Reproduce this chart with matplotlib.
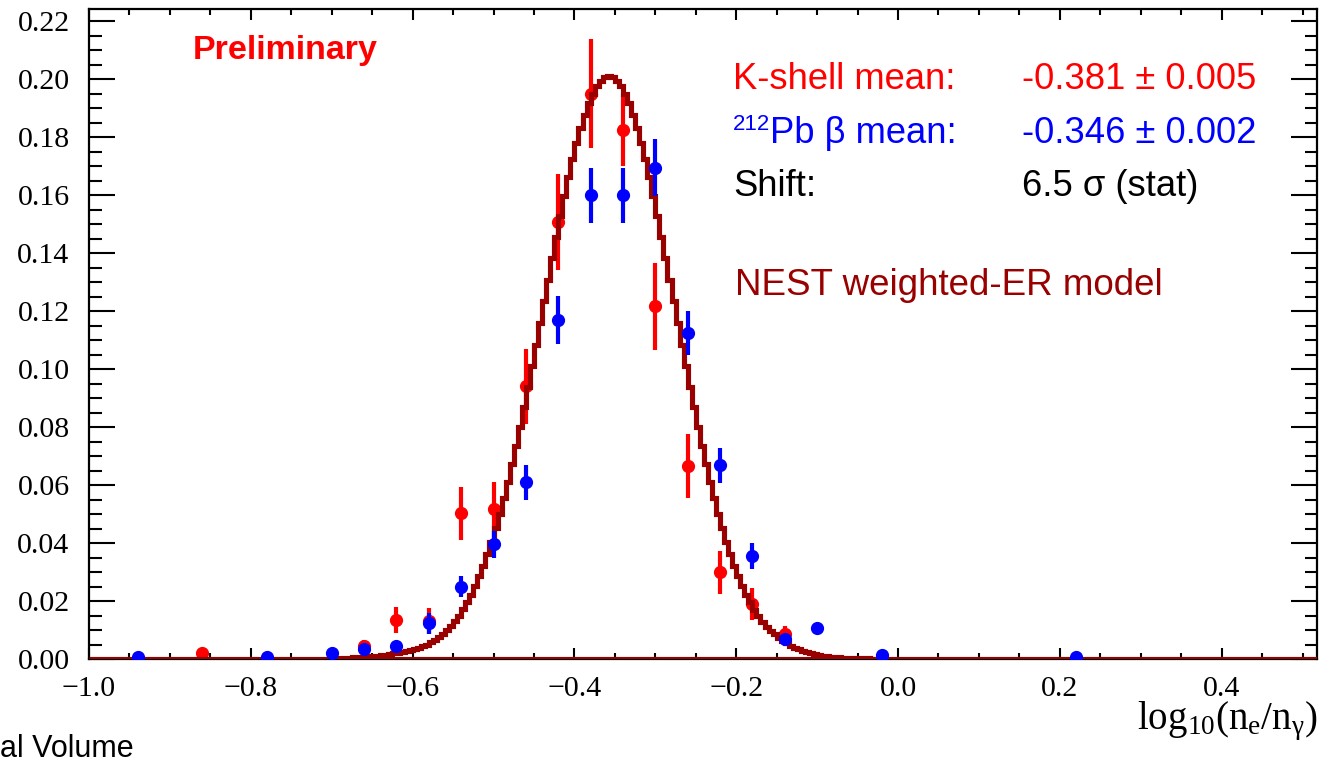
import matplotlib
matplotlib.use("Agg")
import matplotlib.pyplot as plt
import numpy as np

# data points (bin centres, 0.04 wide)
kshell_x = [-0.86, -0.66, -0.62, -0.58, -0.54, -0.50, -0.46, -0.42, -0.38, -0.34,
            -0.30, -0.26, -0.22, -0.18, -0.14]
kshell_y = [0.0020, 0.0045, 0.0134, 0.0130, 0.0503, 0.0516, 0.0940, 0.1508, 0.1950, 0.1824,
            0.1216, 0.0665, 0.0299, 0.0190, 0.0085]
kshell_err = [0.0010, 0.0020, 0.0046, 0.0045, 0.0092, 0.0095, 0.0129, 0.0166, 0.0188, 0.0125,
              0.0150, 0.0110, 0.0075, 0.0055, 0.0030]

pb_x = [-0.94, -0.78, -0.70, -0.66, -0.62, -0.58, -0.54, -0.50, -0.46, -0.42,
        -0.38, -0.34, -0.30, -0.26, -0.22, -0.18, -0.14, -0.10, -0.02, 0.22]
pb_y = [0.0008, 0.0008, 0.0022, 0.0034, 0.0045, 0.0123, 0.0250, 0.0395, 0.0610, 0.1170,
        0.1600, 0.1600, 0.1695, 0.1125, 0.0668, 0.0355, 0.0069, 0.0107, 0.0013, 0.0008]
pb_err = [0.0004, 0.0004, 0.0008, 0.0010, 0.0012, 0.0037, 0.0035, 0.0046, 0.0060, 0.0083,
          0.0095, 0.0095, 0.0098, 0.0077, 0.0060, 0.0046, 0.0015, 0.0012, 0.0005, 0.0004]

# NEST model histogram, 0.005 wide bins from -0.70 to -0.02
model_lo, model_hi = -0.70, -0.02
model_vals = [
    0.0003, 0.0004, 0.0004, 0.0005, 0.0005, 0.0006, 0.0007, 0.0008, 0.0009, 0.0010,
    0.0011, 0.0012, 0.0014, 0.0015, 0.0017, 0.0019, 0.0021, 0.0024, 0.0027, 0.0030,
    0.0034, 0.0039, 0.0044, 0.0050, 0.0057, 0.0066, 0.0076, 0.0087, 0.0100, 0.0114,
    0.0130, 0.0150, 0.0171, 0.0196, 0.0222, 0.0252, 0.0286, 0.0322, 0.0362, 0.0405,
    0.0451, 0.0501, 0.0554, 0.0611, 0.0671, 0.0734, 0.0799, 0.0868, 0.0938, 0.1010,
    0.1084, 0.1159, 0.1234, 0.1309, 0.1384, 0.1457, 0.1528, 0.1596, 0.1661, 0.1723,
    0.1779, 0.1831, 0.1877, 0.1917, 0.1950, 0.1976, 0.1995, 0.2006,
    0.2010, 0.2006, 0.1995, 0.1976, 0.1950, 0.1917, 0.1877, 0.1831, 0.1779, 0.1723,
    0.1661, 0.1596, 0.1528, 0.1457, 0.1384, 0.1309, 0.1234, 0.1159, 0.1084, 0.1010,
    0.0938, 0.0868, 0.0799, 0.0734, 0.0671, 0.0611, 0.0554, 0.0501, 0.0451, 0.0405,
    0.0362, 0.0322, 0.0286, 0.0252, 0.0222, 0.0195, 0.0170, 0.0148, 0.0128, 0.0111,
    0.0098, 0.0085, 0.0073, 0.0063, 0.0054, 0.0046, 0.0039, 0.0033, 0.0028, 0.0024,
    0.0020, 0.0017, 0.0014, 0.0012, 0.0010, 0.0008, 0.0007, 0.0006, 0.0005, 0.0004,
    0.0003, 0.0003, 0.0002, 0.0002, 0.0002, 0.0001, 0.0001, 0.0001,
]
model_edges = np.linspace(model_lo, model_hi, len(model_vals) + 1)

xticks = [-1.0, -0.8, -0.6, -0.4, -0.2, 0.0, 0.2, 0.4]
yticks = [0.00, 0.02, 0.04, 0.06, 0.08, 0.10, 0.12, 0.14, 0.16, 0.18, 0.20, 0.22]

RED = '#ff0000'
BLUE = '#0000ff'
MODEL = '#990000'
W, H = 1321, 762

fig = plt.figure(figsize=(13.21, 7.62), dpi=100)
ax = fig.add_axes([89 / W, 1 - 659 / H, (1316.7 - 89) / W, (659 - 9.3) / H])

ax.errorbar(kshell_x, kshell_y, yerr=kshell_err, fmt='o', color=RED, ms=8.5,
            elinewidth=3, capsize=0, zorder=2)
ax.stairs(model_vals, model_edges, color=MODEL, lw=3.7, zorder=3)
ax.plot([-1.0, 0.5175], [0, 0], color=MODEL, lw=3.7, zorder=3, solid_capstyle='butt')
ax.errorbar(pb_x, pb_y, yerr=pb_err, fmt='o', color=BLUE, ms=8.5,
            elinewidth=3, capsize=0, zorder=4)

ax.set_xlim(-1.0, 0.5175)
ax.set_ylim(0, 0.2241)
ax.set_xticks(xticks)
ax.set_yticks(yticks)
ax.set_xticks(np.arange(-1.0, 0.52, 0.05), minor=True)
ax.set_yticks(np.arange(0, 0.224, 0.005), minor=True)
ax.set_xticklabels([('%.1f' % abs(v)) if v >= 0 else '\u2212%.1f' % abs(v) for v in xticks])
ax.set_yticklabels(['%.2f' % v for v in yticks])
for lab in ax.get_xticklabels() + ax.get_yticklabels():
    lab.set_family('Liberation Serif')
    lab.set_fontsize(21.5)

ax.tick_params(which='both', direction='in', top=True, right=True, width=1.5, color='black')
ax.tick_params(axis='y', which='major', length=19, pad=14)
ax.tick_params(axis='y', which='minor', length=9)
ax.tick_params(axis='x', which='major', length=8, pad=12)
ax.tick_params(axis='x', which='minor', length=4)
for s in ax.spines.values():
    s.set_linewidth(1.6)


def ftext(x, y, s, **kw):
    fig.text(x / W, 1 - y / H, s, va='baseline', ha=kw.pop('ha', 'left'), **kw)


sans = 'Liberation Sans'
fs = 26.2
ftext(192.7, 59.3, 'Preliminary', color=RED, fontsize=24.5, fontweight='bold', family=sans)
ftext(733, 89, 'K-shell mean:', color=RED, fontsize=fs, family=sans)
ftext(1022, 89, '-0.381 ± 0.005', color=RED, fontsize=fs, family=sans)
ftext(733, 130, '212', color=BLUE, fontsize=16, family=sans)
ftext(770, 143, 'Pb β mean:', color=BLUE, fontsize=fs, family=sans)
ftext(1022, 143, '-0.346 ± 0.002', color=BLUE, fontsize=fs, family=sans)
ftext(733, 196, 'Shift:', color='black', fontsize=fs, family=sans)
ftext(1022, 196, '6.5 σ (stat)', color='black', fontsize=fs, family=sans)
ftext(735, 295, 'NEST weighted-ER model', color=MODEL, fontsize=26.5, family=sans)
ftext(0, 757, 'al Volume', color='black', fontsize=22, family=sans)
ftext(1318, 729, r'$\mathdefault{log_{10}(n_{e}/n_{γ})}$', color='black', fontsize=28,
      family='Liberation Serif', ha='right')

fig.savefig('out.png', dpi=100)
